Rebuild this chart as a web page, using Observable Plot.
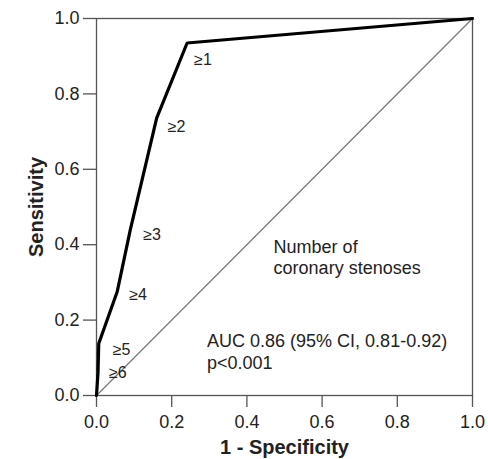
<!DOCTYPE html>
<html>
<head>
<meta charset="utf-8">
<script src="https://cdn.jsdelivr.net/npm/d3@7"></script>
<script src="https://cdn.jsdelivr.net/npm/@observablehq/plot@0.6"></script>
<style>
  html, body { margin: 0; padding: 0; background: #fff; }
  #chart svg { display: block; }
</style>
</head>
<body>
<div id="chart"></div>
<script>
// ROC curve for number of coronary stenoses
const fpr = [0, 0.004, 0.006, 0.055, 0.090, 0.160, 0.241, 1];
const tpr = [0, 0.060, 0.138, 0.275, 0.440, 0.736, 0.935, 1];
const thresholdLabels = ["", "≥6", "≥5", "≥4", "≥3", "≥2", "≥1", ""];
const xTicks = [0, 0.2, 0.4, 0.6, 0.8, 1.0];
const yTicks = [0, 0.2, 0.4, 0.6, 0.8, 1.0];
const xLabel = "1 - Specificity";
const yLabel = "Sensitivity";
const noteLines = ["Number of", "coronary stenoses"];
const statLines = ["AUC 0.86 (95% CI, 0.81-0.92)", "p<0.001"];

const roc = fpr.map((x, i) => ({x, y: tpr[i], label: thresholdLabels[i]}));
const diag = [{x: 0, y: 0}, {x: 1, y: 1}];

// label offsets (pixels) from each threshold point
const offsets = {"≥6": [11, 0], "≥5": [14, 6], "≥4": [12, 3], "≥3": [13, 5], "≥2": [11, 9], "≥1": [7, 17]};
const labelMarks = roc.filter(d => d.label).map(d =>
  Plot.text([d], {x: "x", y: "y", text: "label", textAnchor: "start",
    dx: offsets[d.label][0], dy: offsets[d.label][1], fontSize: 16, fill: "#222"}));

const chart = Plot.plot({
  width: 488,
  height: 459,
  marginLeft: 96,
  marginRight: 16,
  marginTop: 18,
  marginBottom: 64,
  style: {fontFamily: "'Liberation Sans', Arial, sans-serif", fontSize: "18px", color: "#222", background: "#fff"},
  x: {domain: [0, 1]},
  y: {domain: [0, 1]},
  marks: [
    Plot.frame({stroke: "#555", strokeWidth: 1.3}),
    Plot.axisX(xTicks, {tickSize: 12, tickPadding: 8, tickFormat: d3.format(".1f"), label: null, stroke: "#555", strokeWidth: 1.3, fill: "#222"}),
    Plot.axisY(yTicks, {tickSize: 13, tickPadding: 4, tickFormat: d3.format(".1f"), label: null, stroke: "#555", strokeWidth: 1.3, fill: "#222"}),
    Plot.line(diag, {x: "x", y: "y", stroke: "#777", strokeWidth: 1.2}),
    Plot.line(roc, {x: "x", y: "y", stroke: "#000", strokeWidth: 3.2, strokeLinejoin: "miter"}),
    ...labelMarks,
    Plot.text([noteLines.join("\n")], {x: 0.471, y: 0.367, text: d => d, textAnchor: "start", lineAnchor: "middle", lineHeight: 1.15, fontSize: 18, fill: "#222"}),
    Plot.text([statLines.join("\n")], {x: 0.294, y: 0.1175, text: d => d, textAnchor: "start", lineAnchor: "middle", lineHeight: 1.2, fontSize: 18, fill: "#222"}),
    Plot.text([xLabel], {frameAnchor: "bottom", dy: 52, lineAnchor: "middle", textAnchor: "middle", text: d => d, fontSize: 20, fontWeight: "bold", fill: "#222"}),
    Plot.text([yLabel], {frameAnchor: "left", dx: -60, rotate: -90, lineAnchor: "middle", textAnchor: "middle", text: d => d, fontSize: 20, fontWeight: "bold", fill: "#222"})
  ]
});
document.getElementById("chart").appendChild(chart);
</script>
</body>
</html>
